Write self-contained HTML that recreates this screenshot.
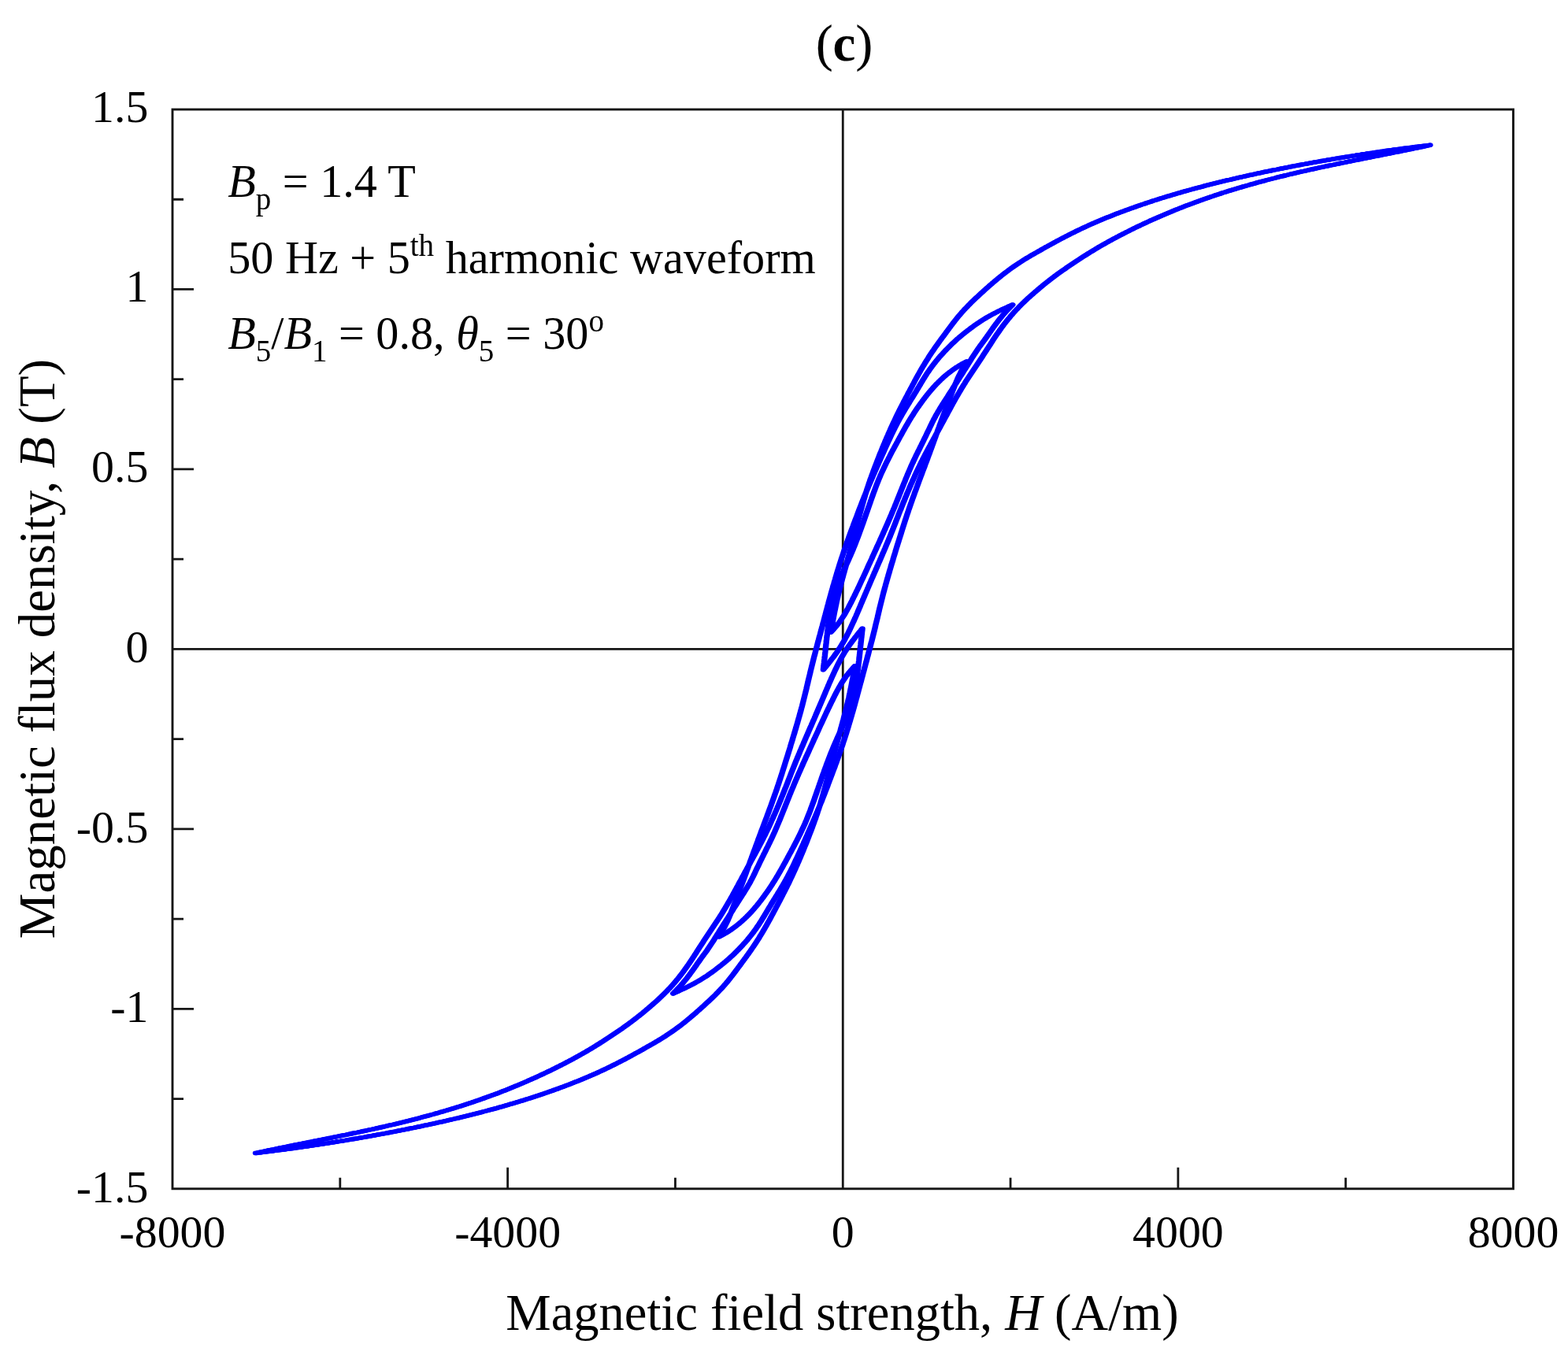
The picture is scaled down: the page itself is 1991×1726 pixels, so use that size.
<!DOCTYPE html>
<html lang="en">
<head>
<meta charset="utf-8">
<title>(c) B-H loop, 50 Hz + 5th harmonic</title>
<style>html,body{margin:0;padding:0;background:#fff;}body{width:1991px;height:1726px;overflow:hidden;}svg{display:block;filter:blur(0.45px);}</style>
</head>
<body>
<svg width="1991" height="1726" viewBox="0 0 1991 1726" font-family="'Liberation Serif', 'DejaVu Serif', serif" fill="#000">
<rect x="219.00" y="139.00" width="1702.50" height="1370.80" fill="none" stroke="#161616" stroke-width="2.90"/>
<path d="M1070.25 139.00V1509.80M219.00 824.40H1921.50" stroke="#161616" stroke-width="2.80" fill="none"/>
<path d="M431.81 1509.80v-14.00M644.62 1509.80v-27.00M857.44 1509.80v-14.00M1283.06 1509.80v-14.00M1495.88 1509.80v-27.00M1708.69 1509.80v-14.00M219.00 253.23h14.00M219.00 367.47h27.00M219.00 481.70h14.00M219.00 595.93h27.00M219.00 710.17h14.00M219.00 938.63h14.00M219.00 1052.87h27.00M219.00 1167.10h14.00M219.00 1281.33h27.00M219.00 1395.57h14.00" stroke="#161616" stroke-width="2.80" fill="none"/>
<g fill="none" stroke="#0000ff" stroke-width="5.40" stroke-linejoin="round" stroke-linecap="round">
<path id="bh" d="M854.7 1261.8L856.4 1261.0L858.2 1260.2L859.9 1259.5L861.6 1258.7L863.3 1257.9L865.1 1257.1L866.8 1256.3L868.5 1255.5L870.2 1254.7L871.9 1253.9L873.5 1253.1L875.2 1252.2L876.9 1251.4L878.5 1250.5L880.2 1249.7L881.8 1248.8L883.4 1247.9L885.0 1247.0L886.6 1246.1L888.2 1245.2L889.8 1244.2L891.3 1243.3L892.9 1242.3L894.4 1241.3L895.9 1240.4L897.4 1239.4L898.9 1238.4L900.4 1237.3L901.9 1236.3L903.4 1235.3L904.8 1234.2L906.3 1233.1L907.7 1232.1L909.1 1231.0L910.5 1229.9L912.0 1228.8L913.4 1227.7L914.8 1226.6L916.2 1225.5L917.5 1224.4L918.9 1223.3L920.3 1222.1L921.7 1221.0L923.0 1219.8L924.4 1218.7L925.7 1217.5L927.0 1216.3L928.3 1215.1L929.6 1213.9L930.9 1212.7L932.2 1211.5L933.5 1210.2L934.7 1209.0L936.0 1207.7L937.2 1206.5L938.5 1205.2L939.7 1203.9L940.9 1202.6L942.1 1201.4L943.3 1200.0L944.5 1198.7L945.7 1197.4L946.9 1196.1L948.1 1194.7L949.2 1193.4L950.3 1192.0L951.5 1190.6L952.6 1189.2L953.7 1187.8L954.8 1186.4L955.9 1185.0L957.0 1183.6L958.0 1182.1L959.1 1180.7L960.1 1179.2L961.1 1177.7L962.2 1176.2L963.2 1174.7L964.2 1173.2L965.1 1171.7L966.1 1170.2L967.1 1168.6L968.0 1167.1L969.0 1165.5L969.9 1164.0L970.9 1162.4L971.8 1160.8L972.7 1159.3L973.7 1157.7L974.6 1156.1L975.6 1154.5L976.5 1153.0L977.4 1151.4L978.4 1149.9L979.3 1148.3L980.3 1146.7L981.2 1145.2L982.2 1143.6L983.2 1142.1L984.1 1140.5L985.1 1139.0L986.0 1137.4L987.0 1135.9L987.9 1134.3L988.9 1132.8L989.8 1131.2L990.8 1129.7L991.7 1128.1L992.6 1126.5L993.6 1124.9L994.5 1123.4L995.4 1121.8L996.3 1120.2L997.2 1118.6L998.1 1117.0L999.0 1115.3L999.9 1113.7L1000.8 1112.1L1001.6 1110.4L1002.5 1108.8L1003.3 1107.1L1004.2 1105.5L1005.0 1103.8L1005.9 1102.1L1006.7 1100.5L1007.5 1098.8L1008.3 1097.1L1009.1 1095.4L1009.9 1093.7L1010.7 1092.0L1011.5 1090.3L1012.3 1088.6L1013.1 1086.9L1013.9 1085.1L1014.7 1083.4L1015.5 1081.7L1016.3 1080.0L1017.1 1078.2L1017.8 1076.5L1018.6 1074.8L1019.4 1073.0L1020.2 1071.3L1020.9 1069.6L1021.7 1067.8L1022.5 1066.1L1023.2 1064.4L1024.0 1062.6L1024.8 1060.9L1025.5 1059.2L1026.3 1057.4L1027.1 1055.7L1027.8 1053.9L1028.6 1052.2L1029.4 1050.5L1030.1 1048.7L1030.9 1047.0L1031.7 1045.2L1032.4 1043.5L1033.2 1041.7L1033.9 1040.0L1034.7 1038.2L1035.4 1036.5L1036.2 1034.7L1036.9 1032.9L1037.7 1031.2L1038.4 1029.4L1039.1 1027.6L1039.9 1025.9L1040.6 1024.1L1041.3 1022.3L1042.0 1020.5L1042.8 1018.7L1043.5 1016.9L1044.2 1015.1L1044.9 1013.3L1045.6 1011.5L1046.3 1009.7L1047.0 1007.9L1047.7 1006.1L1048.4 1004.3L1049.1 1002.5L1049.8 1000.7L1050.5 998.9L1051.2 997.0L1051.8 995.2L1052.5 993.4L1053.2 991.6L1053.9 989.8L1054.6 988.0L1055.3 986.1L1056.0 984.3L1056.7 982.5L1057.3 980.7L1058.0 978.8L1058.7 977.0L1059.4 975.2L1060.1 973.4L1060.7 971.5L1061.4 969.7L1062.1 967.9L1062.7 966.0L1063.4 964.2L1064.1 962.3L1064.7 960.5L1065.4 958.6L1066.0 956.8L1066.7 954.9L1067.3 953.1L1068.0 951.2L1068.6 949.3L1069.3 947.5L1069.9 945.6L1070.5 943.7L1071.1 941.8L1071.8 939.9L1072.4 938.0L1073.0 936.2L1073.6 934.3L1074.2 932.4L1074.8 930.4L1075.4 928.5L1076.0 926.6L1076.6 924.7L1077.2 922.8L1077.7 920.9L1078.3 918.9L1078.9 917.0L1079.5 915.1L1080.0 913.1L1080.6 911.2L1081.2 909.3L1081.7 907.3L1082.3 905.4L1082.9 903.4L1083.4 901.5L1084.0 899.5L1084.5 897.5L1085.1 895.6L1085.6 893.6L1086.1 891.7L1086.7 889.7L1087.2 887.7L1087.8 885.8L1088.3 883.8L1088.8 881.8L1089.4 879.8L1089.9 877.9L1090.4 875.9L1090.9 873.9L1091.5 871.9L1092.0 869.9L1092.5 868.0L1093.1 866.0L1093.6 864.0L1094.1 862.0L1094.6 860.1L1095.2 858.1L1095.7 856.1L1096.2 854.1L1096.8 852.1L1097.3 850.2L1097.8 848.2L1098.4 846.2L1098.9 844.2L1099.4 842.3L1100.0 840.3L1100.5 838.3L1101.0 836.3L1101.5 834.4L1102.1 832.4L1102.6 830.4L1103.1 828.4L1103.6 826.4L1104.2 824.5L1104.7 822.5L1105.2 820.5L1105.7 818.5L1106.2 816.5L1106.8 814.5L1107.3 812.5L1107.8 810.5L1108.3 808.5L1108.8 806.5L1109.3 804.5L1109.8 802.5L1110.3 800.5L1110.8 798.5L1111.3 796.5L1111.7 794.4L1112.2 792.4L1112.7 790.4L1113.2 788.4L1113.7 786.3L1114.2 784.3L1114.6 782.3L1115.1 780.3L1115.6 778.2L1116.1 776.2L1116.5 774.2L1117.0 772.1L1117.5 770.1L1118.0 768.1L1118.5 766.1L1119.0 764.1L1119.5 762.1L1120.0 760.1L1120.5 758.1L1121.0 756.1L1121.5 754.1L1122.0 752.1L1122.6 750.1L1123.1 748.1L1123.6 746.2L1124.2 744.2L1124.7 742.2L1125.3 740.3L1125.8 738.3L1126.4 736.4L1126.9 734.4L1127.5 732.5L1128.0 730.5L1128.6 728.6L1129.2 726.6L1129.7 724.7L1130.3 722.7L1130.9 720.8L1131.4 718.9L1132.0 716.9L1132.6 715.0L1133.2 713.1L1133.8 711.2L1134.3 709.2L1134.9 707.3L1135.5 705.4L1136.1 703.5L1136.7 701.5L1137.2 699.6L1137.8 697.7L1138.4 695.8L1139.0 693.9L1139.6 691.9L1140.2 690.0L1140.8 688.1L1141.4 686.2L1142.0 684.3L1142.6 682.4L1143.2 680.5L1143.8 678.6L1144.4 676.6L1145.0 674.7L1145.6 672.8L1146.2 670.9L1146.8 669.0L1147.4 667.1L1148.0 665.2L1148.6 663.4L1149.2 661.5L1149.8 659.6L1150.5 657.7L1151.1 655.8L1151.7 653.9L1152.3 652.1L1153.0 650.2L1153.6 648.3L1154.2 646.4L1154.9 644.6L1155.5 642.7L1156.2 640.8L1156.8 639.0L1157.5 637.1L1158.1 635.3L1158.8 633.4L1159.5 631.6L1160.1 629.7L1160.8 627.9L1161.4 626.1L1162.1 624.2L1162.8 622.4L1163.5 620.6L1164.1 618.7L1164.8 616.9L1165.5 615.1L1166.2 613.2L1166.8 611.4L1167.5 609.6L1168.2 607.8L1168.9 605.9L1169.6 604.1L1170.3 602.3L1170.9 600.5L1171.6 598.6L1172.3 596.8L1173.0 595.0L1173.7 593.2L1174.4 591.3L1175.0 589.5L1175.7 587.7L1176.4 585.9L1177.1 584.0L1177.8 582.2L1178.4 580.4L1179.1 578.6L1179.8 576.7L1180.5 574.9L1181.1 573.1L1181.8 571.2L1182.5 569.4L1183.2 567.6L1183.8 565.7L1184.5 563.9L1185.2 562.1L1185.8 560.2L1186.5 558.4L1187.2 556.6L1187.9 554.7L1188.5 552.9L1189.2 551.0L1189.9 549.2L1190.5 547.4L1191.2 545.5L1191.9 543.7L1192.6 541.9L1193.2 540.0L1193.9 538.2L1194.6 536.4L1195.3 534.5L1195.9 532.7L1196.6 530.9L1197.3 529.1L1198.0 527.2L1198.7 525.4L1199.4 523.6L1200.1 521.8L1200.7 520.0L1201.4 518.2L1202.1 516.3L1202.8 514.5L1203.5 512.7L1204.2 510.9L1204.9 509.1L1205.6 507.3L1206.3 505.4L1206.9 503.6L1207.6 501.8L1208.3 500.0L1209.0 498.1L1209.7 496.3L1210.4 494.5L1211.1 492.7L1211.8 490.9L1212.5 489.1L1213.2 487.3L1214.0 485.6L1214.7 483.8L1215.5 482.1L1216.2 480.3L1217.0 478.6L1217.8 476.9L1218.7 475.2L1219.5 473.6L1220.3 471.9L1221.2 470.2L1222.1 468.6L1223.0 467.0L1223.9 465.4L1224.8 463.8L1225.7 462.2L1226.6 460.6L1227.5 459.0L1225.9 459.9L1224.2 460.8L1222.6 461.6L1221.0 462.6L1219.4 463.5L1217.8 464.4L1216.3 465.4L1214.8 466.4L1213.2 467.4L1211.7 468.4L1210.3 469.5L1208.8 470.5L1207.4 471.6L1205.9 472.7L1204.5 473.8L1203.1 474.9L1201.7 476.0L1200.4 477.2L1199.0 478.3L1197.7 479.5L1196.4 480.7L1195.1 481.9L1193.8 483.2L1192.5 484.4L1191.3 485.7L1190.0 486.9L1188.8 488.2L1187.6 489.5L1186.3 490.8L1185.1 492.1L1184.0 493.5L1182.8 494.8L1181.6 496.2L1180.5 497.5L1179.3 498.9L1178.2 500.3L1177.1 501.7L1176.0 503.1L1174.9 504.5L1173.8 506.0L1172.7 507.4L1171.6 508.8L1170.6 510.3L1169.5 511.7L1168.5 513.2L1167.4 514.7L1166.4 516.1L1165.3 517.6L1164.3 519.1L1163.3 520.6L1162.3 522.1L1161.3 523.6L1160.3 525.1L1159.3 526.7L1158.3 528.2L1157.3 529.7L1156.4 531.3L1155.4 532.9L1154.5 534.4L1153.5 536.0L1152.6 537.6L1151.7 539.2L1150.7 540.8L1149.8 542.4L1148.9 544.0L1148.0 545.6L1147.1 547.2L1146.2 548.8L1145.3 550.5L1144.4 552.1L1143.5 553.7L1142.6 555.3L1141.7 557.0L1140.8 558.6L1140.0 560.2L1139.1 561.8L1138.2 563.5L1137.3 565.1L1136.4 566.7L1135.5 568.4L1134.7 570.0L1133.8 571.6L1132.9 573.3L1132.0 574.9L1131.2 576.6L1130.3 578.3L1129.5 579.9L1128.6 581.6L1127.8 583.2L1126.9 584.9L1126.1 586.6L1125.2 588.3L1124.4 590.0L1123.6 591.7L1122.8 593.3L1122.0 595.1L1121.2 596.8L1120.4 598.5L1119.6 600.2L1118.8 602.0L1118.0 603.7L1117.3 605.5L1116.5 607.3L1115.8 609.0L1115.1 610.8L1114.4 612.6L1113.6 614.4L1112.9 616.2L1112.2 618.1L1111.5 619.9L1110.9 621.7L1110.2 623.5L1109.5 625.4L1108.8 627.2L1108.2 629.1L1107.5 630.9L1106.8 632.8L1106.2 634.6L1105.5 636.5L1104.9 638.4L1104.2 640.2L1103.6 642.1L1102.9 644.0L1102.3 645.8L1101.6 647.7L1101.0 649.6L1100.3 651.4L1099.7 653.3L1099.0 655.2L1098.4 657.0L1097.7 658.9L1097.1 660.8L1096.4 662.6L1095.8 664.5L1095.1 666.3L1094.4 668.2L1093.8 670.0L1093.1 671.9L1092.4 673.7L1091.7 675.6L1091.1 677.4L1090.4 679.3L1089.7 681.1L1089.0 682.9L1088.3 684.7L1087.6 686.5L1086.9 688.4L1086.2 690.2L1085.5 692.0L1084.8 693.8L1084.0 695.6L1083.3 697.4L1082.6 699.1L1081.8 700.9L1081.1 702.7L1080.3 704.4L1079.6 706.2L1078.8 707.9L1078.0 709.7L1077.3 711.4L1076.5 713.2L1075.7 714.9L1074.9 716.6L1074.1 718.3L1073.3 720.1L1072.5 721.8L1071.7 723.5L1071.0 725.3L1070.2 727.0L1069.4 728.7L1068.6 730.5L1067.9 732.2L1067.1 734.0L1066.4 735.8L1065.6 737.6L1064.9 739.4L1064.2 741.2L1063.5 743.0L1062.8 744.8L1062.2 746.7L1061.5 748.5L1060.9 750.4L1060.2 752.3L1059.6 754.2L1059.1 756.1L1058.5 758.1L1058.0 760.1L1057.4 762.1L1056.9 764.1L1056.5 766.1L1056.0 768.2L1055.6 770.3L1055.2 772.4L1054.8 774.5L1054.4 776.6L1054.0 778.8L1053.7 780.9L1053.3 783.1L1053.0 785.3L1052.7 787.5L1052.3 789.7L1052.0 791.9L1051.7 794.1L1051.5 796.4L1051.2 798.6L1050.9 800.8L1050.6 803.1L1050.4 805.3L1050.1 807.6L1049.8 809.8L1049.6 812.1L1049.3 814.4L1049.1 816.6L1048.8 818.9L1048.6 821.2L1048.3 823.4L1048.1 825.7L1047.9 828.0L1047.6 830.3L1047.4 832.5L1047.1 834.8L1046.9 837.1L1046.6 839.3L1046.4 841.6L1046.1 843.9L1045.9 846.2L1045.6 848.4L1045.4 850.7L1046.5 849.3L1047.6 847.9L1048.8 846.5L1049.9 845.2L1051.0 843.8L1052.1 842.4L1053.2 841.0L1054.3 839.6L1055.4 838.1L1056.5 836.7L1057.6 835.3L1058.7 833.9L1059.7 832.4L1060.8 831.0L1061.8 829.5L1062.9 828.1L1063.9 826.6L1064.9 825.1L1065.9 823.6L1066.9 822.0L1067.9 820.5L1068.8 818.9L1069.7 817.4L1070.7 815.8L1071.6 814.2L1072.5 812.6L1073.3 810.9L1074.2 809.3L1075.1 807.7L1075.9 806.0L1076.8 804.3L1077.6 802.7L1078.4 801.0L1079.2 799.3L1080.0 797.6L1080.8 795.9L1081.6 794.2L1082.4 792.4L1083.2 790.7L1084.0 789.0L1084.8 787.2L1085.5 785.5L1086.3 783.8L1087.1 782.0L1087.8 780.3L1088.6 778.5L1089.3 776.7L1090.1 775.0L1090.8 773.2L1091.6 771.5L1092.3 769.7L1093.0 767.9L1093.8 766.2L1094.5 764.4L1095.3 762.6L1096.0 760.9L1096.8 759.1L1097.5 757.4L1098.3 755.6L1099.0 753.8L1099.8 752.1L1100.5 750.3L1101.3 748.6L1102.0 746.8L1102.8 745.1L1103.5 743.3L1104.3 741.6L1105.0 739.8L1105.8 738.0L1106.5 736.3L1107.3 734.5L1108.1 732.8L1108.8 731.0L1109.6 729.3L1110.3 727.5L1111.1 725.8L1111.9 724.1L1112.6 722.3L1113.4 720.6L1114.1 718.8L1114.9 717.1L1115.6 715.3L1116.4 713.6L1117.2 711.8L1117.9 710.1L1118.7 708.3L1119.4 706.6L1120.2 704.8L1120.9 703.0L1121.7 701.3L1122.5 699.5L1123.2 697.8L1124.0 696.0L1124.7 694.3L1125.4 692.5L1126.2 690.7L1126.9 689.0L1127.7 687.2L1128.4 685.4L1129.1 683.6L1129.9 681.9L1130.6 680.1L1131.3 678.3L1132.0 676.5L1132.7 674.7L1133.4 672.9L1134.2 671.1L1134.9 669.3L1135.6 667.5L1136.3 665.7L1137.0 663.9L1137.7 662.1L1138.4 660.3L1139.1 658.5L1139.8 656.7L1140.5 654.9L1141.2 653.1L1141.9 651.3L1142.6 649.5L1143.4 647.7L1144.1 645.9L1144.8 644.1L1145.5 642.3L1146.2 640.5L1146.9 638.7L1147.7 637.0L1148.4 635.2L1149.1 633.4L1149.8 631.6L1150.6 629.8L1151.3 628.1L1152.0 626.3L1152.8 624.5L1153.5 622.8L1154.3 621.0L1155.0 619.2L1155.8 617.5L1156.5 615.7L1157.3 614.0L1158.1 612.3L1158.8 610.5L1159.6 608.8L1160.4 607.1L1161.2 605.3L1161.9 603.6L1162.7 601.9L1163.5 600.2L1164.3 598.5L1165.1 596.8L1165.9 595.1L1166.7 593.4L1167.6 591.7L1168.4 590.0L1169.2 588.3L1170.0 586.6L1170.9 585.0L1171.7 583.3L1172.6 581.6L1173.4 580.0L1174.3 578.3L1175.1 576.7L1176.0 575.0L1176.9 573.4L1177.8 571.8L1178.6 570.1L1179.5 568.5L1180.4 566.9L1181.3 565.2L1182.1 563.6L1183.0 562.0L1183.9 560.4L1184.8 558.8L1185.7 557.1L1186.6 555.5L1187.5 553.9L1188.3 552.3L1189.2 550.6L1190.1 549.0L1191.0 547.4L1191.9 545.8L1192.8 544.1L1193.7 542.5L1194.5 540.9L1195.4 539.3L1196.3 537.6L1197.2 536.0L1198.1 534.4L1198.9 532.8L1199.8 531.1L1200.7 529.5L1201.6 527.9L1202.5 526.2L1203.3 524.6L1204.2 523.0L1205.1 521.4L1206.0 519.7L1206.9 518.1L1207.7 516.5L1208.6 514.9L1209.5 513.3L1210.4 511.6L1211.3 510.0L1212.2 508.4L1213.1 506.8L1214.0 505.2L1214.9 503.6L1215.9 502.0L1216.8 500.4L1217.7 498.9L1218.6 497.3L1219.6 495.7L1220.5 494.1L1221.4 492.6L1222.4 491.0L1223.3 489.5L1224.3 487.9L1225.3 486.4L1226.2 484.8L1227.2 483.3L1228.2 481.8L1229.2 480.2L1230.2 478.7L1231.2 477.2L1232.2 475.7L1233.2 474.2L1234.2 472.7L1235.2 471.2L1236.2 469.7L1237.2 468.2L1238.2 466.7L1239.2 465.2L1240.2 463.7L1241.2 462.2L1242.2 460.7L1243.2 459.2L1244.2 457.7L1245.2 456.2L1246.2 454.7L1247.2 453.2L1248.2 451.6L1249.2 450.1L1250.2 448.6L1251.2 447.1L1252.2 445.6L1253.1 444.0L1254.1 442.5L1255.1 441.0L1256.1 439.4L1257.1 437.9L1258.1 436.4L1259.0 434.9L1260.0 433.4L1261.0 431.8L1262.0 430.3L1263.0 428.8L1264.0 427.3L1265.0 425.8L1266.0 424.3L1267.1 422.8L1268.1 421.4L1269.1 419.9L1270.2 418.4L1271.2 417.0L1272.3 415.5L1273.3 414.1L1274.4 412.6L1275.5 411.2L1276.6 409.8L1277.7 408.4L1278.8 407.0L1279.9 405.6L1281.1 404.2L1282.2 402.9L1283.3 401.5L1284.5 400.1L1285.7 398.8L1286.8 397.5L1288.0 396.2L1289.2 394.8L1290.4 393.5L1291.7 392.3L1292.9 391.0L1294.1 389.7L1295.4 388.4L1296.6 387.2L1297.9 385.9L1299.1 384.7L1300.4 383.5L1301.7 382.2L1303.0 381.0L1304.3 379.8L1305.6 378.6L1306.9 377.4L1308.2 376.2L1309.6 375.0L1310.9 373.9L1312.2 372.7L1313.6 371.5L1314.9 370.4L1316.3 369.2L1317.6 368.1L1319.0 366.9L1320.3 365.8L1321.7 364.6L1323.1 363.5L1324.4 362.3L1325.8 361.2L1327.2 360.1L1328.6 359.0L1330.0 357.9L1331.4 356.8L1332.8 355.7L1334.2 354.6L1335.6 353.5L1337.1 352.4L1338.5 351.3L1339.9 350.2L1341.4 349.2L1342.8 348.1L1344.3 347.1L1345.7 346.0L1347.2 345.0L1348.7 343.9L1350.1 342.9L1351.6 341.9L1353.1 340.9L1354.6 339.8L1356.1 338.8L1357.6 337.8L1359.1 336.8L1360.6 335.8L1362.1 334.8L1363.6 333.8L1365.1 332.8L1366.6 331.8L1368.1 330.8L1369.7 329.8L1371.2 328.8L1372.7 327.8L1374.2 326.8L1375.7 325.8L1377.2 324.9L1378.8 323.9L1380.3 322.9L1381.9 321.9L1383.4 321.0L1384.9 320.0L1386.5 319.1L1388.1 318.1L1389.6 317.2L1391.2 316.2L1392.8 315.3L1394.3 314.4L1395.9 313.4L1397.5 312.5L1399.1 311.6L1400.7 310.7L1402.3 309.8L1403.9 308.9L1405.5 308.0L1407.1 307.1L1408.7 306.2L1410.4 305.3L1412.0 304.4L1413.6 303.5L1415.2 302.7L1416.9 301.8L1418.5 300.9L1420.2 300.1L1421.8 299.2L1423.5 298.3L1425.1 297.5L1426.8 296.6L1428.4 295.8L1430.1 294.9L1431.8 294.1L1433.4 293.3L1435.1 292.4L1436.8 291.6L1438.5 290.8L1440.1 289.9L1441.8 289.1L1443.5 288.3L1445.2 287.5L1446.9 286.7L1448.6 285.9L1450.3 285.1L1452.0 284.3L1453.7 283.5L1455.4 282.7L1457.2 281.9L1458.9 281.1L1460.6 280.3L1462.3 279.5L1464.1 278.8L1465.8 278.0L1467.5 277.2L1469.3 276.5L1471.0 275.7L1472.8 274.9L1474.5 274.2L1476.3 273.4L1478.0 272.7L1479.8 271.9L1481.6 271.2L1483.3 270.4L1485.1 269.7L1486.9 269.0L1488.7 268.2L1490.4 267.5L1492.2 266.8L1494.0 266.1L1495.8 265.4L1497.6 264.6L1499.4 263.9L1501.2 263.2L1503.0 262.5L1504.8 261.8L1506.6 261.1L1508.4 260.4L1510.3 259.7L1512.1 259.1L1513.9 258.4L1515.7 257.7L1517.6 257.0L1519.4 256.4L1521.2 255.7L1523.1 255.0L1524.9 254.4L1526.8 253.7L1528.6 253.0L1530.5 252.4L1532.3 251.7L1534.2 251.1L1536.1 250.5L1537.9 249.8L1539.8 249.2L1541.7 248.5L1543.6 247.9L1545.5 247.3L1547.3 246.7L1549.2 246.1L1551.1 245.4L1553.0 244.8L1554.9 244.2L1556.8 243.6L1558.7 243.0L1560.6 242.4L1562.6 241.8L1564.5 241.2L1566.4 240.7L1568.3 240.1L1570.2 239.5L1572.2 238.9L1574.1 238.3L1576.0 237.8L1578.0 237.2L1579.9 236.6L1581.9 236.1L1583.8 235.5L1585.8 235.0L1587.7 234.4L1589.7 233.8L1591.6 233.3L1593.6 232.8L1595.6 232.2L1597.5 231.7L1599.5 231.1L1601.5 230.6L1603.5 230.1L1605.5 229.6L1607.4 229.0L1609.4 228.5L1611.4 228.0L1613.4 227.5L1615.4 227.0L1617.4 226.5L1619.4 226.0L1621.4 225.4L1623.4 224.9L1625.4 224.4L1627.4 223.9L1629.4 223.5L1631.5 223.0L1633.5 222.5L1635.5 222.0L1637.5 221.5L1639.6 221.0L1641.6 220.5L1643.6 220.1L1645.6 219.6L1647.7 219.1L1649.7 218.6L1651.8 218.2L1653.8 217.7L1655.8 217.3L1657.9 216.8L1659.9 216.3L1662.0 215.9L1664.0 215.4L1666.1 215.0L1668.2 214.5L1670.2 214.1L1672.3 213.6L1674.3 213.2L1676.4 212.7L1678.5 212.3L1680.5 211.9L1682.6 211.4L1684.7 211.0L1686.8 210.5L1688.8 210.1L1690.9 209.7L1693.0 209.3L1695.1 208.8L1697.1 208.4L1699.2 208.0L1701.3 207.5L1703.4 207.1L1705.5 206.7L1707.6 206.3L1709.6 205.8L1711.7 205.4L1713.8 205.0L1715.9 204.6L1718.0 204.2L1720.1 203.7L1722.2 203.3L1724.3 202.9L1726.4 202.5L1728.4 202.1L1730.5 201.7L1732.6 201.2L1734.7 200.8L1736.8 200.4L1738.9 200.0L1741.0 199.6L1743.1 199.2L1745.2 198.7L1747.3 198.3L1749.4 197.9L1751.5 197.5L1753.5 197.1L1755.6 196.7L1757.7 196.2L1759.8 195.8L1761.9 195.4L1764.0 195.0L1766.1 194.6L1768.2 194.1L1770.2 193.7L1772.3 193.3L1774.4 192.9L1776.5 192.5L1778.6 192.0L1780.7 191.6L1782.8 191.2L1784.8 190.8L1786.9 190.3L1789.0 189.9L1791.1 189.5L1793.2 189.0L1795.2 188.6L1797.3 188.2L1799.4 187.8L1801.5 187.3L1803.5 186.9L1805.6 186.5L1807.7 186.0L1809.8 185.6L1811.8 185.2L1813.9 184.7L1816.0 184.3L1813.8 184.6L1811.5 184.9L1809.3 185.1L1807.1 185.4L1804.9 185.7L1802.6 186.0L1800.4 186.3L1798.2 186.5L1795.9 186.8L1793.7 187.1L1791.5 187.4L1789.3 187.7L1787.0 188.0L1784.8 188.2L1782.6 188.5L1780.4 188.8L1778.2 189.1L1776.0 189.4L1773.8 189.7L1771.5 190.0L1769.3 190.3L1767.1 190.6L1764.9 190.9L1762.7 191.2L1760.5 191.5L1758.3 191.8L1756.1 192.2L1753.9 192.5L1751.7 192.8L1749.5 193.1L1747.4 193.4L1745.2 193.7L1743.0 194.1L1740.8 194.4L1738.6 194.7L1736.4 195.0L1734.2 195.4L1732.1 195.7L1729.9 196.0L1727.7 196.4L1725.5 196.7L1723.4 197.0L1721.2 197.4L1719.0 197.7L1716.9 198.1L1714.7 198.4L1712.5 198.8L1710.4 199.1L1708.2 199.4L1706.1 199.8L1703.9 200.2L1701.8 200.5L1699.6 200.9L1697.5 201.2L1695.3 201.6L1693.2 201.9L1691.0 202.3L1688.9 202.7L1686.7 203.0L1684.6 203.4L1682.5 203.8L1680.3 204.2L1678.2 204.5L1676.1 204.9L1673.9 205.3L1671.8 205.7L1669.7 206.0L1667.5 206.4L1665.4 206.8L1663.3 207.2L1661.2 207.6L1659.1 208.0L1656.9 208.4L1654.8 208.7L1652.7 209.1L1650.6 209.5L1648.5 209.9L1646.4 210.3L1644.3 210.7L1642.2 211.1L1640.0 211.5L1637.9 211.9L1635.8 212.4L1633.7 212.8L1631.6 213.2L1629.6 213.6L1627.5 214.0L1625.4 214.4L1623.3 214.8L1621.2 215.3L1619.1 215.7L1617.0 216.1L1614.9 216.5L1612.8 217.0L1610.8 217.4L1608.7 217.8L1606.6 218.2L1604.5 218.7L1602.5 219.1L1600.4 219.6L1598.3 220.0L1596.3 220.4L1594.2 220.9L1592.1 221.3L1590.1 221.8L1588.0 222.2L1586.0 222.7L1583.9 223.1L1581.9 223.6L1579.8 224.0L1577.8 224.5L1575.7 225.0L1573.7 225.4L1571.6 225.9L1569.6 226.4L1567.5 226.8L1565.5 227.3L1563.5 227.8L1561.5 228.3L1559.4 228.7L1557.4 229.2L1555.4 229.7L1553.4 230.2L1551.3 230.7L1549.3 231.2L1547.3 231.7L1545.3 232.2L1543.3 232.7L1541.3 233.2L1539.3 233.7L1537.3 234.2L1535.3 234.7L1533.3 235.2L1531.3 235.7L1529.3 236.2L1527.3 236.8L1525.3 237.3L1523.3 237.8L1521.3 238.3L1519.4 238.9L1517.4 239.4L1515.4 239.9L1513.4 240.5L1511.5 241.0L1509.5 241.5L1507.5 242.1L1505.6 242.6L1503.6 243.2L1501.7 243.7L1499.7 244.3L1497.8 244.9L1495.8 245.4L1493.9 246.0L1491.9 246.6L1490.0 247.1L1488.1 247.7L1486.1 248.3L1484.2 248.9L1482.3 249.4L1480.4 250.0L1478.4 250.6L1476.5 251.2L1474.6 251.8L1472.7 252.4L1470.8 253.0L1468.9 253.6L1467.0 254.2L1465.1 254.8L1463.2 255.4L1461.3 256.1L1459.4 256.7L1457.5 257.3L1455.7 257.9L1453.8 258.6L1451.9 259.2L1450.0 259.8L1448.2 260.5L1446.3 261.1L1444.4 261.8L1442.6 262.4L1440.7 263.1L1438.9 263.7L1437.0 264.4L1435.2 265.0L1433.3 265.7L1431.5 266.4L1429.6 267.0L1427.8 267.7L1426.0 268.4L1424.2 269.1L1422.3 269.8L1420.5 270.5L1418.7 271.1L1416.9 271.8L1415.1 272.5L1413.3 273.2L1411.5 274.0L1409.7 274.7L1407.9 275.4L1406.1 276.1L1404.3 276.8L1402.5 277.5L1400.7 278.3L1399.0 279.0L1397.2 279.8L1395.4 280.5L1393.7 281.2L1391.9 282.0L1390.2 282.8L1388.4 283.5L1386.7 284.3L1384.9 285.1L1383.2 285.8L1381.5 286.6L1379.8 287.4L1378.0 288.2L1376.3 289.0L1374.6 289.8L1372.9 290.6L1371.2 291.4L1369.5 292.2L1367.8 293.0L1366.1 293.8L1364.5 294.7L1362.8 295.5L1361.1 296.3L1359.4 297.2L1357.8 298.0L1356.1 298.9L1354.4 299.7L1352.8 300.6L1351.1 301.4L1349.5 302.3L1347.8 303.1L1346.2 304.0L1344.6 304.9L1342.9 305.7L1341.3 306.6L1339.7 307.5L1338.0 308.4L1336.4 309.3L1334.8 310.2L1333.2 311.1L1331.6 311.9L1330.0 312.8L1328.3 313.7L1326.7 314.6L1325.1 315.5L1323.5 316.4L1321.9 317.4L1320.3 318.3L1318.7 319.2L1317.1 320.1L1315.5 321.0L1313.9 321.9L1312.3 322.8L1310.7 323.7L1309.1 324.6L1307.6 325.6L1306.0 326.5L1304.4 327.4L1302.8 328.4L1301.3 329.3L1299.7 330.3L1298.2 331.3L1296.7 332.2L1295.1 333.2L1293.6 334.2L1292.1 335.2L1290.6 336.2L1289.1 337.2L1287.6 338.3L1286.2 339.3L1284.7 340.3L1283.2 341.4L1281.8 342.4L1280.3 343.5L1278.9 344.6L1277.5 345.6L1276.0 346.7L1274.6 347.8L1273.2 348.9L1271.8 350.0L1270.4 351.1L1269.0 352.3L1267.6 353.4L1266.3 354.5L1264.9 355.7L1263.5 356.8L1262.2 358.0L1260.8 359.1L1259.5 360.3L1258.1 361.4L1256.8 362.6L1255.5 363.8L1254.1 365.0L1252.8 366.1L1251.5 367.3L1250.1 368.5L1248.8 369.7L1247.5 370.9L1246.2 372.1L1244.9 373.3L1243.6 374.5L1242.3 375.7L1241.0 376.9L1239.7 378.1L1238.4 379.3L1237.1 380.5L1235.8 381.8L1234.5 383.0L1233.3 384.2L1232.0 385.5L1230.8 386.8L1229.5 388.0L1228.3 389.3L1227.1 390.6L1225.8 391.9L1224.6 393.2L1223.4 394.5L1222.2 395.8L1221.1 397.1L1219.9 398.5L1218.7 399.8L1217.6 401.2L1216.4 402.5L1215.3 403.9L1214.2 405.3L1213.1 406.7L1212.0 408.1L1210.9 409.5L1209.8 410.9L1208.7 412.4L1207.6 413.8L1206.6 415.2L1205.5 416.7L1204.4 418.1L1203.4 419.5L1202.3 421.0L1201.2 422.4L1200.2 423.9L1199.1 425.3L1198.0 426.8L1197.0 428.2L1195.9 429.6L1194.8 431.1L1193.8 432.5L1192.7 434.0L1191.7 435.5L1190.6 436.9L1189.6 438.4L1188.5 439.9L1187.5 441.3L1186.5 442.8L1185.5 444.3L1184.4 445.8L1183.4 447.3L1182.4 448.8L1181.4 450.3L1180.4 451.8L1179.4 453.3L1178.5 454.9L1177.5 456.4L1176.5 457.9L1175.6 459.5L1174.6 461.0L1173.7 462.6L1172.7 464.2L1171.8 465.7L1170.9 467.3L1169.9 468.9L1169.0 470.5L1168.1 472.1L1167.2 473.7L1166.3 475.3L1165.4 476.9L1164.5 478.5L1163.6 480.1L1162.7 481.8L1161.8 483.4L1161.0 485.0L1160.1 486.7L1159.2 488.3L1158.4 489.9L1157.5 491.6L1156.6 493.2L1155.7 494.9L1154.9 496.5L1154.0 498.1L1153.1 499.8L1152.3 501.4L1151.4 503.1L1150.5 504.7L1149.7 506.3L1148.8 508.0L1148.0 509.6L1147.1 511.3L1146.3 513.0L1145.4 514.6L1144.6 516.3L1143.7 517.9L1142.9 519.6L1142.0 521.3L1141.2 522.9L1140.4 524.6L1139.5 526.3L1138.7 528.0L1137.9 529.7L1137.1 531.4L1136.3 533.1L1135.5 534.8L1134.7 536.5L1133.9 538.2L1133.1 539.9L1132.3 541.6L1131.5 543.4L1130.7 545.1L1130.0 546.8L1129.2 548.6L1128.4 550.3L1127.7 552.1L1126.9 553.8L1126.1 555.6L1125.4 557.3L1124.6 559.1L1123.9 560.8L1123.2 562.6L1122.4 564.4L1121.7 566.1L1120.9 567.9L1120.2 569.7L1119.5 571.5L1118.8 573.3L1118.0 575.1L1117.3 576.8L1116.6 578.6L1115.9 580.4L1115.2 582.2L1114.5 584.0L1113.8 585.8L1113.1 587.7L1112.4 589.5L1111.7 591.3L1111.0 593.1L1110.3 594.9L1109.6 596.7L1108.9 598.6L1108.3 600.4L1107.6 602.2L1106.9 604.1L1106.3 605.9L1105.6 607.8L1104.9 609.6L1104.3 611.5L1103.7 613.3L1103.0 615.2L1102.4 617.1L1101.8 619.0L1101.1 620.9L1100.5 622.8L1099.9 624.7L1099.3 626.6L1098.7 628.5L1098.2 630.4L1097.6 632.4L1097.0 634.3L1096.4 636.2L1095.9 638.2L1095.3 640.1L1094.8 642.1L1094.2 644.0L1093.7 646.0L1093.1 648.0L1092.6 649.9L1092.0 651.9L1091.5 653.9L1091.0 655.8L1090.4 657.8L1089.9 659.8L1089.4 661.8L1088.8 663.7L1088.3 665.7L1087.8 667.7L1087.3 669.7L1086.7 671.7L1086.2 673.7L1085.7 675.6L1085.2 677.6L1084.6 679.6L1084.1 681.6L1083.6 683.6L1083.1 685.6L1082.5 687.5L1082.0 689.5L1081.5 691.5L1081.0 693.5L1080.4 695.5L1079.9 697.5L1079.4 699.4L1078.8 701.4L1078.3 703.4L1077.8 705.3L1077.2 707.3L1076.7 709.3L1076.1 711.2L1075.6 713.2L1075.0 715.2L1074.5 717.1L1074.0 719.1L1073.4 721.1L1072.9 723.0L1072.3 725.0L1071.8 727.0L1071.2 728.9L1070.7 730.9L1070.2 732.9L1069.6 734.8L1069.1 736.8L1068.6 738.8L1068.0 740.8L1067.5 742.8L1067.0 744.8L1066.5 746.8L1066.0 748.8L1065.5 750.8L1065.0 752.8L1064.5 754.8L1064.0 756.9L1063.6 758.9L1063.1 760.9L1062.6 763.0L1062.2 765.0L1061.8 767.1L1061.3 769.2L1060.9 771.3L1060.5 773.3L1060.0 775.4L1059.6 777.5L1059.2 779.6L1058.8 781.7L1058.4 783.8L1058.0 786.0L1057.6 788.1L1057.3 790.2L1056.9 792.3L1056.5 794.5L1056.1 796.6L1055.7 798.7L1055.4 800.9L1055.0 803.0L1056.2 801.7L1057.4 800.4L1058.6 799.0L1059.8 797.7L1060.9 796.3L1062.1 795.0L1063.2 793.6L1064.3 792.2L1065.4 790.8L1066.5 789.3L1067.5 787.8L1068.5 786.3L1069.5 784.8L1070.5 783.3L1071.5 781.8L1072.5 780.2L1073.4 778.6L1074.3 777.0L1075.2 775.4L1076.1 773.8L1077.0 772.2L1077.9 770.5L1078.8 768.9L1079.6 767.2L1080.5 765.6L1081.3 763.9L1082.2 762.2L1083.0 760.5L1083.8 758.8L1084.7 757.2L1085.5 755.5L1086.3 753.8L1087.1 752.1L1087.9 750.4L1088.8 748.7L1089.6 747.0L1090.4 745.3L1091.2 743.6L1092.0 741.8L1092.8 740.1L1093.6 738.4L1094.4 736.7L1095.2 735.0L1096.0 733.3L1096.8 731.5L1097.6 729.8L1098.4 728.1L1099.2 726.4L1100.0 724.6L1100.8 722.9L1101.5 721.2L1102.3 719.5L1103.1 717.7L1103.9 716.0L1104.7 714.3L1105.5 712.5L1106.3 710.8L1107.1 709.1L1107.8 707.4L1108.6 705.6L1109.4 703.9L1110.2 702.2L1111.0 700.4L1111.8 698.7L1112.6 697.0L1113.3 695.2L1114.1 693.5L1114.9 691.8L1115.7 690.0L1116.5 688.3L1117.3 686.6L1118.0 684.8L1118.8 683.1L1119.6 681.4L1120.4 679.6L1121.2 677.9L1121.9 676.1L1122.7 674.4L1123.5 672.7L1124.2 670.9L1125.0 669.2L1125.8 667.4L1126.6 665.7L1127.3 663.9L1128.1 662.2L1128.8 660.4L1129.6 658.6L1130.4 656.9L1131.1 655.1L1131.9 653.3L1132.6 651.6L1133.3 649.8L1134.1 648.0L1134.8 646.3L1135.6 644.5L1136.3 642.7L1137.0 640.9L1137.8 639.1L1138.5 637.3L1139.2 635.5L1139.9 633.7L1140.7 631.9L1141.4 630.1L1142.1 628.3L1142.8 626.5L1143.5 624.7L1144.2 622.9L1145.0 621.1L1145.7 619.3L1146.4 617.6L1147.1 615.8L1147.8 614.0L1148.6 612.2L1149.3 610.4L1150.0 608.6L1150.7 606.8L1151.5 605.0L1152.2 603.2L1153.0 601.5L1153.7 599.7L1154.5 597.9L1155.2 596.2L1156.0 594.4L1156.7 592.7L1157.5 590.9L1158.3 589.2L1159.1 587.5L1159.9 585.7L1160.7 584.0L1161.5 582.3L1162.3 580.6L1163.1 578.9L1163.9 577.2L1164.8 575.5L1165.6 573.8L1166.4 572.2L1167.3 570.5L1168.1 568.8L1168.9 567.1L1169.8 565.4L1170.6 563.8L1171.4 562.1L1172.3 560.4L1173.1 558.7L1173.9 557.0L1174.8 555.3L1175.6 553.6L1176.4 551.9L1177.2 550.2L1178.0 548.5L1178.9 546.8L1179.7 545.1L1180.5 543.4L1181.3 541.7L1182.1 540.0L1182.9 538.3L1183.7 536.6L1184.6 534.9L1185.4 533.3L1186.3 531.6L1187.2 530.0L1188.0 528.3L1188.9 526.7L1189.9 525.1L1190.8 523.5L1191.7 521.9L1192.7 520.4L1193.6 518.8L1194.6 517.2L1195.5 515.7L1196.5 514.1L1197.5 512.6L1198.4 511.1L1199.4 509.5L1200.4 508.0L1201.4 506.5L1202.4 504.9L1203.4 503.4L1204.3 501.9L1205.3 500.3L1206.3 498.8L1207.3 497.2L1208.3 495.7L1209.3 494.2L1210.2 492.6L1211.2 491.1L1212.2 489.6L1213.2 488.0L1214.2 486.5L1215.1 485.0L1216.1 483.4L1217.1 481.9L1218.1 480.3L1219.0 478.8L1220.0 477.3L1221.0 475.7L1222.0 474.2L1223.0 472.6L1223.9 471.1L1224.9 469.6L1225.9 468.0L1226.9 466.5L1227.8 464.9L1228.8 463.4L1229.8 461.8L1230.7 460.3L1231.7 458.7L1232.7 457.2L1233.6 455.6L1234.6 454.1L1235.6 452.5L1236.6 451.0L1237.6 449.5L1238.6 448.0L1239.6 446.5L1240.6 445.0L1241.6 443.5L1242.6 442.0L1243.7 440.5L1244.7 439.1L1245.8 437.6L1246.9 436.2L1248.0 434.7L1249.0 433.3L1250.1 431.8L1251.1 430.4L1252.2 428.9L1253.2 427.4L1254.3 425.9L1255.3 424.5L1256.3 423.0L1257.4 421.5L1258.4 420.0L1259.5 418.5L1260.5 417.1L1261.5 415.6L1262.6 414.1L1263.7 412.7L1264.7 411.2L1265.8 409.8L1266.9 408.4L1268.0 406.9L1269.1 405.5L1270.2 404.1L1271.4 402.8L1272.5 401.4L1273.6 400.0L1274.8 398.7L1276.0 397.3L1277.2 396.0L1278.4 394.7L1279.6 393.4L1280.8 392.1L1282.1 390.8L1283.3 389.5L1284.6 388.3L1285.8 387.0L1284.1 387.8L1282.3 388.6L1280.6 389.3L1278.9 390.1L1277.2 390.9L1275.4 391.7L1273.7 392.5L1272.0 393.3L1270.3 394.1L1268.6 394.9L1267.0 395.7L1265.3 396.6L1263.6 397.4L1262.0 398.3L1260.3 399.1L1258.7 400.0L1257.1 400.9L1255.5 401.8L1253.9 402.7L1252.3 403.6L1250.7 404.6L1249.2 405.5L1247.6 406.5L1246.1 407.5L1244.6 408.4L1243.1 409.4L1241.6 410.4L1240.1 411.5L1238.6 412.5L1237.1 413.5L1235.7 414.6L1234.2 415.7L1232.8 416.7L1231.4 417.8L1230.0 418.9L1228.5 420.0L1227.1 421.1L1225.7 422.2L1224.3 423.3L1223.0 424.4L1221.6 425.5L1220.2 426.7L1218.8 427.8L1217.5 429.0L1216.1 430.1L1214.8 431.3L1213.5 432.5L1212.2 433.7L1210.9 434.9L1209.6 436.1L1208.3 437.3L1207.0 438.6L1205.8 439.8L1204.5 441.1L1203.3 442.3L1202.0 443.6L1200.8 444.9L1199.6 446.2L1198.4 447.4L1197.2 448.8L1196.0 450.1L1194.8 451.4L1193.6 452.7L1192.4 454.1L1191.3 455.4L1190.2 456.8L1189.0 458.2L1187.9 459.6L1186.8 461.0L1185.7 462.4L1184.6 463.8L1183.5 465.2L1182.5 466.7L1181.4 468.1L1180.4 469.6L1179.4 471.1L1178.3 472.6L1177.3 474.1L1176.3 475.6L1175.4 477.1L1174.4 478.6L1173.4 480.2L1172.5 481.7L1171.5 483.3L1170.6 484.8L1169.6 486.4L1168.7 488.0L1167.8 489.5L1166.8 491.1L1165.9 492.7L1164.9 494.3L1164.0 495.8L1163.1 497.4L1162.1 498.9L1161.2 500.5L1160.2 502.1L1159.3 503.6L1158.3 505.2L1157.3 506.7L1156.4 508.3L1155.4 509.8L1154.5 511.4L1153.5 512.9L1152.6 514.5L1151.6 516.0L1150.7 517.6L1149.7 519.1L1148.8 520.7L1147.9 522.3L1146.9 523.9L1146.0 525.4L1145.1 527.0L1144.2 528.6L1143.3 530.2L1142.4 531.8L1141.5 533.5L1140.6 535.1L1139.7 536.7L1138.9 538.4L1138.0 540.0L1137.2 541.7L1136.3 543.3L1135.5 545.0L1134.6 546.7L1133.8 548.3L1133.0 550.0L1132.2 551.7L1131.4 553.4L1130.6 555.1L1129.8 556.8L1129.0 558.5L1128.2 560.2L1127.4 561.9L1126.6 563.7L1125.8 565.4L1125.0 567.1L1124.2 568.8L1123.4 570.6L1122.7 572.3L1121.9 574.0L1121.1 575.8L1120.3 577.5L1119.6 579.2L1118.8 581.0L1118.0 582.7L1117.3 584.4L1116.5 586.2L1115.7 587.9L1115.0 589.6L1114.2 591.4L1113.4 593.1L1112.7 594.9L1111.9 596.6L1111.1 598.3L1110.4 600.1L1109.6 601.8L1108.8 603.6L1108.1 605.3L1107.3 607.1L1106.6 608.8L1105.8 610.6L1105.1 612.3L1104.3 614.1L1103.6 615.9L1102.8 617.6L1102.1 619.4L1101.4 621.2L1100.6 622.9L1099.9 624.7L1099.2 626.5L1098.5 628.3L1097.7 630.1L1097.0 631.9L1096.3 633.7L1095.6 635.5L1094.9 637.3L1094.2 639.1L1093.5 640.9L1092.8 642.7L1092.1 644.5L1091.4 646.3L1090.7 648.1L1090.0 649.9L1089.3 651.8L1088.7 653.6L1088.0 655.4L1087.3 657.2L1086.6 659.0L1085.9 660.8L1085.2 662.7L1084.5 664.5L1083.8 666.3L1083.2 668.1L1082.5 670.0L1081.8 671.8L1081.1 673.6L1080.4 675.4L1079.8 677.3L1079.1 679.1L1078.4 680.9L1077.8 682.8L1077.1 684.6L1076.4 686.5L1075.8 688.3L1075.1 690.2L1074.5 692.0L1073.8 693.9L1073.2 695.7L1072.5 697.6L1071.9 699.5L1071.2 701.3L1070.6 703.2L1070.0 705.1L1069.4 707.0L1068.7 708.9L1068.1 710.8L1067.5 712.6L1066.9 714.5L1066.3 716.4L1065.7 718.4L1065.1 720.3L1064.5 722.2L1063.9 724.1L1063.3 726.0L1062.8 727.9L1062.2 729.9L1061.6 731.8L1061.0 733.7L1060.5 735.7L1059.9 737.6L1059.3 739.5L1058.8 741.5L1058.2 743.4L1057.6 745.4L1057.1 747.3L1056.5 749.3L1056.0 751.3L1055.4 753.2L1054.9 755.2L1054.4 757.1L1053.8 759.1L1053.3 761.1L1052.7 763.0L1052.2 765.0L1051.7 767.0L1051.1 769.0L1050.6 770.9L1050.1 772.9L1049.6 774.9L1049.0 776.9L1048.5 778.9L1048.0 780.8L1047.4 782.8L1046.9 784.8L1046.4 786.8L1045.9 788.7L1045.3 790.7L1044.8 792.7L1044.3 794.7L1043.7 796.7L1043.2 798.6L1042.7 800.6L1042.1 802.6L1041.6 804.6L1041.1 806.5L1040.5 808.5L1040.0 810.5L1039.5 812.5L1039.0 814.4L1038.4 816.4L1037.9 818.4L1037.4 820.4L1036.9 822.4L1036.3 824.3L1035.8 826.3L1035.3 828.3L1034.8 830.3L1034.3 832.3L1033.7 834.3L1033.2 836.3L1032.7 838.3L1032.2 840.3L1031.7 842.3L1031.2 844.3L1030.7 846.3L1030.2 848.3L1029.7 850.3L1029.2 852.3L1028.8 854.4L1028.3 856.4L1027.8 858.4L1027.3 860.4L1026.8 862.5L1026.3 864.5L1025.9 866.5L1025.4 868.5L1024.9 870.6L1024.4 872.6L1024.0 874.6L1023.5 876.7L1023.0 878.7L1022.5 880.7L1022.0 882.7L1021.5 884.7L1021.0 886.7L1020.5 888.7L1020.0 890.7L1019.5 892.7L1019.0 894.7L1018.5 896.7L1017.9 898.7L1017.4 900.7L1016.9 902.6L1016.3 904.6L1015.8 906.6L1015.2 908.5L1014.7 910.5L1014.1 912.4L1013.6 914.4L1013.0 916.3L1012.5 918.3L1011.9 920.2L1011.3 922.2L1010.8 924.1L1010.2 926.1L1009.6 928.0L1009.1 929.9L1008.5 931.9L1007.9 933.8L1007.3 935.7L1006.7 937.6L1006.2 939.6L1005.6 941.5L1005.0 943.4L1004.4 945.3L1003.8 947.3L1003.3 949.2L1002.7 951.1L1002.1 953.0L1001.5 954.9L1000.9 956.9L1000.3 958.8L999.7 960.7L999.1 962.6L998.5 964.5L997.9 966.4L997.3 968.3L996.7 970.2L996.1 972.2L995.5 974.1L994.9 976.0L994.3 977.9L993.7 979.8L993.1 981.7L992.5 983.6L991.9 985.4L991.3 987.3L990.7 989.2L990.0 991.1L989.4 993.0L988.8 994.9L988.2 996.7L987.5 998.6L986.9 1000.5L986.3 1002.4L985.6 1004.2L985.0 1006.1L984.3 1008.0L983.7 1009.8L983.0 1011.7L982.4 1013.5L981.7 1015.4L981.0 1017.2L980.4 1019.1L979.7 1020.9L979.1 1022.7L978.4 1024.6L977.7 1026.4L977.0 1028.2L976.4 1030.1L975.7 1031.9L975.0 1033.7L974.3 1035.6L973.7 1037.4L973.0 1039.2L972.3 1041.0L971.6 1042.9L970.9 1044.7L970.2 1046.5L969.6 1048.3L968.9 1050.2L968.2 1052.0L967.5 1053.8L966.8 1055.6L966.1 1057.5L965.5 1059.3L964.8 1061.1L964.1 1062.9L963.4 1064.8L962.7 1066.6L962.1 1068.4L961.4 1070.2L960.7 1072.1L960.0 1073.9L959.4 1075.7L958.7 1077.6L958.0 1079.4L957.3 1081.2L956.7 1083.1L956.0 1084.9L955.3 1086.7L954.7 1088.6L954.0 1090.4L953.3 1092.2L952.6 1094.1L952.0 1095.9L951.3 1097.8L950.6 1099.6L950.0 1101.4L949.3 1103.3L948.6 1105.1L947.9 1106.9L947.3 1108.8L946.6 1110.6L945.9 1112.4L945.2 1114.3L944.6 1116.1L943.9 1117.9L943.2 1119.7L942.5 1121.6L941.8 1123.4L941.1 1125.2L940.4 1127.0L939.8 1128.8L939.1 1130.6L938.4 1132.5L937.7 1134.3L937.0 1136.1L936.3 1137.9L935.6 1139.7L934.9 1141.5L934.2 1143.4L933.6 1145.2L932.9 1147.0L932.2 1148.8L931.5 1150.7L930.8 1152.5L930.1 1154.3L929.4 1156.1L928.7 1157.9L928.0 1159.7L927.3 1161.5L926.5 1163.2L925.8 1165.0L925.0 1166.7L924.3 1168.5L923.5 1170.2L922.7 1171.9L921.8 1173.6L921.0 1175.2L920.2 1176.9L919.3 1178.6L918.4 1180.2L917.5 1181.8L916.6 1183.4L915.7 1185.0L914.8 1186.6L913.9 1188.2L913.0 1189.8L914.6 1188.9L916.3 1188.0L917.9 1187.2L919.5 1186.2L921.1 1185.3L922.7 1184.4L924.2 1183.4L925.7 1182.4L927.3 1181.4L928.8 1180.4L930.2 1179.3L931.7 1178.3L933.1 1177.2L934.6 1176.1L936.0 1175.0L937.4 1173.9L938.8 1172.8L940.1 1171.6L941.5 1170.5L942.8 1169.3L944.1 1168.1L945.4 1166.9L946.7 1165.6L948.0 1164.4L949.2 1163.1L950.5 1161.9L951.7 1160.6L952.9 1159.3L954.2 1158.0L955.4 1156.7L956.5 1155.3L957.7 1154.0L958.9 1152.6L960.0 1151.3L961.2 1149.9L962.3 1148.5L963.4 1147.1L964.5 1145.7L965.6 1144.3L966.7 1142.8L967.8 1141.4L968.9 1140.0L969.9 1138.5L971.0 1137.1L972.0 1135.6L973.1 1134.1L974.1 1132.7L975.2 1131.2L976.2 1129.7L977.2 1128.2L978.2 1126.7L979.2 1125.2L980.2 1123.7L981.2 1122.1L982.2 1120.6L983.2 1119.1L984.1 1117.5L985.1 1115.9L986.0 1114.4L987.0 1112.8L987.9 1111.2L988.8 1109.6L989.8 1108.0L990.7 1106.4L991.6 1104.8L992.5 1103.2L993.4 1101.6L994.3 1100.0L995.2 1098.3L996.1 1096.7L997.0 1095.1L997.9 1093.5L998.8 1091.8L999.7 1090.2L1000.5 1088.6L1001.4 1087.0L1002.3 1085.3L1003.2 1083.7L1004.1 1082.1L1005.0 1080.4L1005.8 1078.8L1006.7 1077.2L1007.6 1075.5L1008.5 1073.9L1009.3 1072.2L1010.2 1070.5L1011.0 1068.9L1011.9 1067.2L1012.7 1065.6L1013.6 1063.9L1014.4 1062.2L1015.3 1060.5L1016.1 1058.8L1016.9 1057.1L1017.7 1055.5L1018.5 1053.7L1019.3 1052.0L1020.1 1050.3L1020.9 1048.6L1021.7 1046.8L1022.5 1045.1L1023.2 1043.3L1024.0 1041.5L1024.7 1039.8L1025.4 1038.0L1026.1 1036.2L1026.9 1034.4L1027.6 1032.6L1028.3 1030.7L1029.0 1028.9L1029.6 1027.1L1030.3 1025.3L1031.0 1023.4L1031.7 1021.6L1032.3 1019.7L1033.0 1017.9L1033.7 1016.0L1034.3 1014.2L1035.0 1012.3L1035.6 1010.4L1036.3 1008.6L1036.9 1006.7L1037.6 1004.8L1038.2 1003.0L1038.9 1001.1L1039.5 999.2L1040.2 997.4L1040.8 995.5L1041.5 993.6L1042.1 991.8L1042.8 989.9L1043.4 988.0L1044.1 986.2L1044.7 984.3L1045.4 982.5L1046.1 980.6L1046.7 978.8L1047.4 976.9L1048.1 975.1L1048.8 973.2L1049.4 971.4L1050.1 969.5L1050.8 967.7L1051.5 965.9L1052.2 964.1L1052.9 962.3L1053.6 960.4L1054.3 958.6L1055.0 956.8L1055.7 955.0L1056.5 953.2L1057.2 951.4L1057.9 949.7L1058.7 947.9L1059.4 946.1L1060.2 944.4L1060.9 942.6L1061.7 940.9L1062.5 939.1L1063.2 937.4L1064.0 935.6L1064.8 933.9L1065.6 932.2L1066.4 930.5L1067.2 928.7L1068.0 927.0L1068.8 925.3L1069.5 923.5L1070.3 921.8L1071.1 920.1L1071.9 918.3L1072.6 916.6L1073.4 914.8L1074.1 913.0L1074.9 911.2L1075.6 909.4L1076.3 907.6L1077.0 905.8L1077.7 904.0L1078.3 902.1L1079.0 900.3L1079.6 898.4L1080.3 896.5L1080.9 894.6L1081.4 892.7L1082.0 890.7L1082.5 888.7L1083.1 886.7L1083.6 884.7L1084.0 882.7L1084.5 880.6L1084.9 878.5L1085.3 876.4L1085.7 874.3L1086.1 872.2L1086.5 870.0L1086.8 867.9L1087.2 865.7L1087.5 863.5L1087.8 861.3L1088.2 859.1L1088.5 856.9L1088.8 854.7L1089.0 852.4L1089.3 850.2L1089.6 848.0L1089.9 845.7L1090.1 843.5L1090.4 841.2L1090.7 839.0L1090.9 836.7L1091.2 834.4L1091.4 832.2L1091.7 829.9L1091.9 827.6L1092.2 825.4L1092.4 823.1L1092.6 820.8L1092.9 818.5L1093.1 816.3L1093.4 814.0L1093.6 811.7L1093.9 809.5L1094.1 807.2L1094.4 804.9L1094.6 802.6L1094.9 800.4L1095.1 798.1L1094.0 799.5L1092.9 800.9L1091.7 802.3L1090.6 803.6L1089.5 805.0L1088.4 806.4L1087.3 807.8L1086.2 809.2L1085.1 810.7L1084.0 812.1L1082.9 813.5L1081.8 814.9L1080.8 816.4L1079.7 817.8L1078.7 819.3L1077.6 820.7L1076.6 822.2L1075.6 823.7L1074.6 825.2L1073.6 826.8L1072.6 828.3L1071.7 829.9L1070.8 831.4L1069.8 833.0L1068.9 834.6L1068.0 836.2L1067.2 837.9L1066.3 839.5L1065.4 841.1L1064.6 842.8L1063.7 844.5L1062.9 846.1L1062.1 847.8L1061.3 849.5L1060.5 851.2L1059.7 852.9L1058.9 854.6L1058.1 856.4L1057.3 858.1L1056.5 859.8L1055.7 861.6L1055.0 863.3L1054.2 865.0L1053.4 866.8L1052.7 868.5L1051.9 870.3L1051.2 872.1L1050.4 873.8L1049.7 875.6L1048.9 877.3L1048.2 879.1L1047.5 880.9L1046.7 882.6L1046.0 884.4L1045.2 886.2L1044.5 887.9L1043.7 889.7L1043.0 891.4L1042.2 893.2L1041.5 895.0L1040.7 896.7L1040.0 898.5L1039.2 900.2L1038.5 902.0L1037.7 903.7L1037.0 905.5L1036.2 907.2L1035.5 909.0L1034.7 910.8L1034.0 912.5L1033.2 914.3L1032.4 916.0L1031.7 917.8L1030.9 919.5L1030.2 921.3L1029.4 923.0L1028.6 924.7L1027.9 926.5L1027.1 928.2L1026.4 930.0L1025.6 931.7L1024.9 933.5L1024.1 935.2L1023.3 937.0L1022.6 938.7L1021.8 940.5L1021.1 942.2L1020.3 944.0L1019.6 945.8L1018.8 947.5L1018.0 949.3L1017.3 951.0L1016.5 952.8L1015.8 954.5L1015.1 956.3L1014.3 958.1L1013.6 959.8L1012.8 961.6L1012.1 963.4L1011.4 965.2L1010.6 966.9L1009.9 968.7L1009.2 970.5L1008.5 972.3L1007.8 974.1L1007.1 975.9L1006.3 977.7L1005.6 979.5L1004.9 981.3L1004.2 983.1L1003.5 984.9L1002.8 986.7L1002.1 988.5L1001.4 990.3L1000.7 992.1L1000.0 993.9L999.3 995.7L998.6 997.5L997.9 999.3L997.1 1001.1L996.4 1002.9L995.7 1004.7L995.0 1006.5L994.3 1008.3L993.6 1010.1L992.8 1011.8L992.1 1013.6L991.4 1015.4L990.7 1017.2L989.9 1019.0L989.2 1020.7L988.5 1022.5L987.7 1024.3L987.0 1026.0L986.2 1027.8L985.5 1029.6L984.7 1031.3L984.0 1033.1L983.2 1034.8L982.4 1036.5L981.7 1038.3L980.9 1040.0L980.1 1041.7L979.3 1043.5L978.6 1045.2L977.8 1046.9L977.0 1048.6L976.2 1050.3L975.4 1052.0L974.6 1053.7L973.8 1055.4L972.9 1057.1L972.1 1058.8L971.3 1060.5L970.5 1062.2L969.6 1063.8L968.8 1065.5L967.9 1067.2L967.1 1068.8L966.2 1070.5L965.4 1072.1L964.5 1073.8L963.6 1075.4L962.7 1077.0L961.9 1078.7L961.0 1080.3L960.1 1081.9L959.2 1083.6L958.4 1085.2L957.5 1086.8L956.6 1088.4L955.7 1090.0L954.8 1091.7L953.9 1093.3L953.0 1094.9L952.2 1096.5L951.3 1098.2L950.4 1099.8L949.5 1101.4L948.6 1103.0L947.7 1104.7L946.8 1106.3L946.0 1107.9L945.1 1109.5L944.2 1111.2L943.3 1112.8L942.4 1114.4L941.6 1116.0L940.7 1117.7L939.8 1119.3L938.9 1120.9L938.0 1122.6L937.2 1124.2L936.3 1125.8L935.4 1127.4L934.5 1129.1L933.6 1130.7L932.8 1132.3L931.9 1133.9L931.0 1135.5L930.1 1137.2L929.2 1138.8L928.3 1140.4L927.4 1142.0L926.5 1143.6L925.6 1145.2L924.6 1146.8L923.7 1148.4L922.8 1149.9L921.9 1151.5L920.9 1153.1L920.0 1154.7L919.1 1156.2L918.1 1157.8L917.2 1159.3L916.2 1160.9L915.2 1162.4L914.3 1164.0L913.3 1165.5L912.3 1167.0L911.3 1168.6L910.3 1170.1L909.3 1171.6L908.3 1173.1L907.3 1174.6L906.3 1176.1L905.3 1177.6L904.3 1179.1L903.3 1180.6L902.3 1182.1L901.3 1183.6L900.3 1185.1L899.3 1186.6L898.3 1188.1L897.3 1189.6L896.3 1191.1L895.3 1192.6L894.3 1194.1L893.3 1195.6L892.3 1197.2L891.3 1198.7L890.3 1200.2L889.3 1201.7L888.3 1203.2L887.4 1204.8L886.4 1206.3L885.4 1207.8L884.4 1209.4L883.4 1210.9L882.4 1212.4L881.5 1213.9L880.5 1215.4L879.5 1217.0L878.5 1218.5L877.5 1220.0L876.5 1221.5L875.5 1223.0L874.5 1224.5L873.4 1226.0L872.4 1227.4L871.4 1228.9L870.3 1230.4L869.3 1231.8L868.2 1233.3L867.2 1234.7L866.1 1236.2L865.0 1237.6L863.9 1239.0L862.8 1240.4L861.7 1241.8L860.6 1243.2L859.4 1244.6L858.3 1245.9L857.2 1247.3L856.0 1248.7L854.8 1250.0L853.7 1251.3L852.5 1252.6L851.3 1254.0L850.1 1255.3L848.8 1256.5L847.6 1257.8L846.4 1259.1L845.1 1260.4L843.9 1261.6L842.6 1262.9L841.4 1264.1L840.1 1265.3L838.8 1266.6L837.5 1267.8L836.2 1269.0L834.9 1270.2L833.6 1271.4L832.3 1272.6L830.9 1273.8L829.6 1274.9L828.3 1276.1L826.9 1277.3L825.6 1278.4L824.2 1279.6L822.9 1280.7L821.5 1281.9L820.2 1283.0L818.8 1284.2L817.4 1285.3L816.1 1286.5L814.7 1287.6L813.3 1288.7L811.9 1289.8L810.5 1290.9L809.1 1292.0L807.7 1293.1L806.3 1294.2L804.9 1295.3L803.4 1296.4L802.0 1297.5L800.6 1298.6L799.1 1299.6L797.7 1300.7L796.2 1301.7L794.8 1302.8L793.3 1303.8L791.8 1304.9L790.4 1305.9L788.9 1306.9L787.4 1307.9L785.9 1309.0L784.4 1310.0L782.9 1311.0L781.4 1312.0L779.9 1313.0L778.4 1314.0L776.9 1315.0L775.4 1316.0L773.9 1317.0L772.4 1318.0L770.8 1319.0L769.3 1320.0L767.8 1321.0L766.3 1322.0L764.8 1323.0L763.3 1323.9L761.7 1324.9L760.2 1325.9L758.6 1326.9L757.1 1327.8L755.6 1328.8L754.0 1329.7L752.4 1330.7L750.9 1331.6L749.3 1332.6L747.7 1333.5L746.2 1334.4L744.6 1335.4L743.0 1336.3L741.4 1337.2L739.8 1338.1L738.2 1339.0L736.6 1339.9L735.0 1340.8L733.4 1341.7L731.8 1342.6L730.1 1343.5L728.5 1344.4L726.9 1345.3L725.3 1346.1L723.6 1347.0L722.0 1347.9L720.3 1348.7L718.7 1349.6L717.0 1350.5L715.4 1351.3L713.7 1352.2L712.1 1353.0L710.4 1353.9L708.7 1354.7L707.1 1355.5L705.4 1356.4L703.7 1357.2L702.0 1358.0L700.4 1358.9L698.7 1359.7L697.0 1360.5L695.3 1361.3L693.6 1362.1L691.9 1362.9L690.2 1363.7L688.5 1364.5L686.8 1365.3L685.1 1366.1L683.3 1366.9L681.6 1367.7L679.9 1368.5L678.2 1369.3L676.4 1370.0L674.7 1370.8L673.0 1371.6L671.2 1372.3L669.5 1373.1L667.7 1373.9L666.0 1374.6L664.2 1375.4L662.5 1376.1L660.7 1376.9L658.9 1377.6L657.2 1378.4L655.4 1379.1L653.6 1379.8L651.8 1380.6L650.1 1381.3L648.3 1382.0L646.5 1382.7L644.7 1383.4L642.9 1384.2L641.1 1384.9L639.3 1385.6L637.5 1386.3L635.7 1387.0L633.9 1387.7L632.1 1388.4L630.2 1389.1L628.4 1389.7L626.6 1390.4L624.8 1391.1L622.9 1391.8L621.1 1392.4L619.3 1393.1L617.4 1393.8L615.6 1394.4L613.7 1395.1L611.9 1395.8L610.0 1396.4L608.2 1397.1L606.3 1397.7L604.4 1398.3L602.6 1399.0L600.7 1399.6L598.8 1400.3L596.9 1400.9L595.0 1401.5L593.2 1402.1L591.3 1402.7L589.4 1403.4L587.5 1404.0L585.6 1404.6L583.7 1405.2L581.8 1405.8L579.9 1406.4L577.9 1407.0L576.0 1407.6L574.1 1408.1L572.2 1408.7L570.3 1409.3L568.3 1409.9L566.4 1410.5L564.5 1411.0L562.5 1411.6L560.6 1412.2L558.6 1412.7L556.7 1413.3L554.7 1413.8L552.8 1414.4L550.8 1415.0L548.9 1415.5L546.9 1416.0L544.9 1416.6L543.0 1417.1L541.0 1417.7L539.0 1418.2L537.0 1418.7L535.0 1419.2L533.1 1419.8L531.1 1420.3L529.1 1420.8L527.1 1421.3L525.1 1421.8L523.1 1422.3L521.1 1422.8L519.1 1423.4L517.1 1423.9L515.1 1424.4L513.1 1424.9L511.1 1425.3L509.0 1425.8L507.0 1426.3L505.0 1426.8L503.0 1427.3L500.9 1427.8L498.9 1428.3L496.9 1428.7L494.9 1429.2L492.8 1429.7L490.8 1430.2L488.7 1430.6L486.7 1431.1L484.7 1431.5L482.6 1432.0L480.6 1432.5L478.5 1432.9L476.5 1433.4L474.4 1433.8L472.3 1434.3L470.3 1434.7L468.2 1435.2L466.2 1435.6L464.1 1436.1L462.0 1436.5L460.0 1436.9L457.9 1437.4L455.8 1437.8L453.7 1438.3L451.7 1438.7L449.6 1439.1L447.5 1439.5L445.4 1440.0L443.4 1440.4L441.3 1440.8L439.2 1441.3L437.1 1441.7L435.0 1442.1L432.9 1442.5L430.9 1443.0L428.8 1443.4L426.7 1443.8L424.6 1444.2L422.5 1444.6L420.4 1445.1L418.3 1445.5L416.2 1445.9L414.1 1446.3L412.1 1446.7L410.0 1447.1L407.9 1447.6L405.8 1448.0L403.7 1448.4L401.6 1448.8L399.5 1449.2L397.4 1449.6L395.3 1450.1L393.2 1450.5L391.1 1450.9L389.0 1451.3L387.0 1451.7L384.9 1452.1L382.8 1452.6L380.7 1453.0L378.6 1453.4L376.5 1453.8L374.4 1454.2L372.3 1454.7L370.3 1455.1L368.2 1455.5L366.1 1455.9L364.0 1456.3L361.9 1456.8L359.8 1457.2L357.7 1457.6L355.7 1458.0L353.6 1458.5L351.5 1458.9L349.4 1459.3L347.3 1459.8L345.3 1460.2L343.2 1460.6L341.1 1461.0L339.0 1461.5L337.0 1461.9L334.9 1462.3L332.8 1462.8L330.7 1463.2L328.7 1463.6L326.6 1464.1L324.5 1464.5L326.7 1464.2L329.0 1463.9L331.2 1463.7L333.4 1463.4L335.6 1463.1L337.9 1462.8L340.1 1462.5L342.3 1462.3L344.6 1462.0L346.8 1461.7L349.0 1461.4L351.2 1461.1L353.5 1460.8L355.7 1460.6L357.9 1460.3L360.1 1460.0L362.3 1459.7L364.5 1459.4L366.7 1459.1L369.0 1458.8L371.2 1458.5L373.4 1458.2L375.6 1457.9L377.8 1457.6L380.0 1457.3L382.2 1457.0L384.4 1456.6L386.6 1456.3L388.8 1456.0L391.0 1455.7L393.1 1455.4L395.3 1455.1L397.5 1454.7L399.7 1454.4L401.9 1454.1L404.1 1453.8L406.3 1453.4L408.4 1453.1L410.6 1452.8L412.8 1452.4L415.0 1452.1L417.1 1451.8L419.3 1451.4L421.5 1451.1L423.6 1450.7L425.8 1450.4L428.0 1450.0L430.1 1449.7L432.3 1449.4L434.4 1449.0L436.6 1448.6L438.7 1448.3L440.9 1447.9L443.0 1447.6L445.2 1447.2L447.3 1446.9L449.5 1446.5L451.6 1446.1L453.8 1445.8L455.9 1445.4L458.0 1445.0L460.2 1444.6L462.3 1444.3L464.4 1443.9L466.6 1443.5L468.7 1443.1L470.8 1442.8L473.0 1442.4L475.1 1442.0L477.2 1441.6L479.3 1441.2L481.4 1440.8L483.6 1440.4L485.7 1440.1L487.8 1439.7L489.9 1439.3L492.0 1438.9L494.1 1438.5L496.2 1438.1L498.3 1437.7L500.5 1437.3L502.6 1436.9L504.7 1436.4L506.8 1436.0L508.9 1435.6L510.9 1435.2L513.0 1434.8L515.1 1434.4L517.2 1434.0L519.3 1433.5L521.4 1433.1L523.5 1432.7L525.6 1432.3L527.7 1431.8L529.7 1431.4L531.8 1431.0L533.9 1430.6L536.0 1430.1L538.0 1429.7L540.1 1429.2L542.2 1428.8L544.2 1428.4L546.3 1427.9L548.4 1427.5L550.4 1427.0L552.5 1426.6L554.5 1426.1L556.6 1425.7L558.6 1425.2L560.7 1424.8L562.7 1424.3L564.8 1423.8L566.8 1423.4L568.9 1422.9L570.9 1422.4L573.0 1422.0L575.0 1421.5L577.0 1421.0L579.0 1420.5L581.1 1420.1L583.1 1419.6L585.1 1419.1L587.1 1418.6L589.2 1418.1L591.2 1417.6L593.2 1417.1L595.2 1416.6L597.2 1416.1L599.2 1415.6L601.2 1415.1L603.2 1414.6L605.2 1414.1L607.2 1413.6L609.2 1413.1L611.2 1412.6L613.2 1412.0L615.2 1411.5L617.2 1411.0L619.2 1410.5L621.1 1409.9L623.1 1409.4L625.1 1408.9L627.1 1408.3L629.0 1407.8L631.0 1407.3L633.0 1406.7L634.9 1406.2L636.9 1405.6L638.8 1405.1L640.8 1404.5L642.7 1403.9L644.7 1403.4L646.6 1402.8L648.6 1402.2L650.5 1401.7L652.4 1401.1L654.4 1400.5L656.3 1399.9L658.2 1399.4L660.1 1398.8L662.1 1398.2L664.0 1397.6L665.9 1397.0L667.8 1396.4L669.7 1395.8L671.6 1395.2L673.5 1394.6L675.4 1394.0L677.3 1393.4L679.2 1392.7L681.1 1392.1L683.0 1391.5L684.8 1390.9L686.7 1390.2L688.6 1389.6L690.5 1389.0L692.3 1388.3L694.2 1387.7L696.1 1387.0L697.9 1386.4L699.8 1385.7L701.6 1385.1L703.5 1384.4L705.3 1383.8L707.2 1383.1L709.0 1382.4L710.9 1381.8L712.7 1381.1L714.5 1380.4L716.3 1379.7L718.2 1379.0L720.0 1378.3L721.8 1377.7L723.6 1377.0L725.4 1376.3L727.2 1375.6L729.0 1374.8L730.8 1374.1L732.6 1373.4L734.4 1372.7L736.2 1372.0L738.0 1371.3L739.8 1370.5L741.5 1369.8L743.3 1369.0L745.1 1368.3L746.8 1367.6L748.6 1366.8L750.3 1366.0L752.1 1365.3L753.8 1364.5L755.6 1363.7L757.3 1363.0L759.0 1362.2L760.7 1361.4L762.5 1360.6L764.2 1359.8L765.9 1359.0L767.6 1358.2L769.3 1357.4L771.0 1356.6L772.7 1355.8L774.4 1355.0L776.0 1354.1L777.7 1353.3L779.4 1352.5L781.1 1351.6L782.7 1350.8L784.4 1349.9L786.1 1349.1L787.7 1348.2L789.4 1347.4L791.0 1346.5L792.7 1345.7L794.3 1344.8L795.9 1343.9L797.6 1343.1L799.2 1342.2L800.8 1341.3L802.5 1340.4L804.1 1339.5L805.7 1338.6L807.3 1337.7L808.9 1336.9L810.5 1336.0L812.2 1335.1L813.8 1334.2L815.4 1333.3L817.0 1332.4L818.6 1331.4L820.2 1330.5L821.8 1329.6L823.4 1328.7L825.0 1327.8L826.6 1326.9L828.2 1326.0L829.8 1325.1L831.4 1324.2L832.9 1323.2L834.5 1322.3L836.1 1321.4L837.7 1320.4L839.2 1319.5L840.8 1318.5L842.3 1317.5L843.8 1316.6L845.4 1315.6L846.9 1314.6L848.4 1313.6L849.9 1312.6L851.4 1311.6L852.9 1310.5L854.3 1309.5L855.8 1308.5L857.3 1307.4L858.7 1306.4L860.2 1305.3L861.6 1304.2L863.0 1303.2L864.5 1302.1L865.9 1301.0L867.3 1299.9L868.7 1298.8L870.1 1297.7L871.5 1296.5L872.9 1295.4L874.2 1294.3L875.6 1293.1L877.0 1292.0L878.3 1290.8L879.7 1289.7L881.0 1288.5L882.4 1287.4L883.7 1286.2L885.0 1285.0L886.4 1283.8L887.7 1282.7L889.0 1281.5L890.4 1280.3L891.7 1279.1L893.0 1277.9L894.3 1276.7L895.6 1275.5L896.9 1274.3L898.2 1273.1L899.5 1271.9L900.8 1270.7L902.1 1269.5L903.4 1268.3L904.7 1267.0L906.0 1265.8L907.2 1264.6L908.5 1263.3L909.7 1262.0L911.0 1260.8L912.2 1259.5L913.4 1258.2L914.7 1256.9L915.9 1255.6L917.1 1254.3L918.3 1253.0L919.4 1251.7L920.6 1250.3L921.8 1249.0L922.9 1247.6L924.1 1246.3L925.2 1244.9L926.3 1243.5L927.4 1242.1L928.5 1240.7L929.6 1239.3L930.7 1237.9L931.8 1236.4L932.9 1235.0L933.9 1233.6L935.0 1232.1L936.1 1230.7L937.1 1229.3L938.2 1227.8L939.3 1226.4L940.3 1224.9L941.4 1223.5L942.5 1222.0L943.5 1220.6L944.6 1219.2L945.7 1217.7L946.7 1216.3L947.8 1214.8L948.8 1213.3L949.9 1211.9L950.9 1210.4L952.0 1208.9L953.0 1207.5L954.0 1206.0L955.0 1204.5L956.1 1203.0L957.1 1201.5L958.1 1200.0L959.1 1198.5L960.1 1197.0L961.1 1195.5L962.0 1193.9L963.0 1192.4L964.0 1190.9L964.9 1189.3L965.9 1187.8L966.8 1186.2L967.8 1184.6L968.7 1183.1L969.6 1181.5L970.6 1179.9L971.5 1178.3L972.4 1176.7L973.3 1175.1L974.2 1173.5L975.1 1171.9L976.0 1170.3L976.9 1168.7L977.8 1167.0L978.7 1165.4L979.5 1163.8L980.4 1162.1L981.3 1160.5L982.1 1158.9L983.0 1157.2L983.9 1155.6L984.8 1153.9L985.6 1152.3L986.5 1150.7L987.4 1149.0L988.2 1147.4L989.1 1145.7L990.0 1144.1L990.8 1142.5L991.7 1140.8L992.5 1139.2L993.4 1137.5L994.2 1135.8L995.1 1134.2L995.9 1132.5L996.8 1130.9L997.6 1129.2L998.5 1127.5L999.3 1125.9L1000.1 1124.2L1001.0 1122.5L1001.8 1120.8L1002.6 1119.1L1003.4 1117.4L1004.2 1115.7L1005.0 1114.0L1005.8 1112.3L1006.6 1110.6L1007.4 1108.9L1008.2 1107.2L1009.0 1105.4L1009.8 1103.7L1010.5 1102.0L1011.3 1100.2L1012.1 1098.5L1012.8 1096.7L1013.6 1095.0L1014.4 1093.2L1015.1 1091.5L1015.9 1089.7L1016.6 1088.0L1017.3 1086.2L1018.1 1084.4L1018.8 1082.7L1019.6 1080.9L1020.3 1079.1L1021.0 1077.3L1021.7 1075.5L1022.5 1073.7L1023.2 1072.0L1023.9 1070.2L1024.6 1068.4L1025.3 1066.6L1026.0 1064.8L1026.7 1063.0L1027.4 1061.1L1028.1 1059.3L1028.8 1057.5L1029.5 1055.7L1030.2 1053.9L1030.9 1052.1L1031.6 1050.2L1032.2 1048.4L1032.9 1046.6L1033.6 1044.7L1034.2 1042.9L1034.9 1041.0L1035.6 1039.2L1036.2 1037.3L1036.8 1035.5L1037.5 1033.6L1038.1 1031.7L1038.7 1029.8L1039.4 1027.9L1040.0 1026.0L1040.6 1024.1L1041.2 1022.2L1041.8 1020.3L1042.3 1018.4L1042.9 1016.4L1043.5 1014.5L1044.1 1012.6L1044.6 1010.6L1045.2 1008.7L1045.7 1006.7L1046.3 1004.8L1046.8 1002.8L1047.4 1000.8L1047.9 998.9L1048.5 996.9L1049.0 994.9L1049.5 993.0L1050.1 991.0L1050.6 989.0L1051.1 987.0L1051.7 985.1L1052.2 983.1L1052.7 981.1L1053.2 979.1L1053.8 977.1L1054.3 975.1L1054.8 973.2L1055.3 971.2L1055.9 969.2L1056.4 967.2L1056.9 965.2L1057.4 963.2L1058.0 961.3L1058.5 959.3L1059.0 957.3L1059.5 955.3L1060.1 953.3L1060.6 951.3L1061.1 949.4L1061.7 947.4L1062.2 945.4L1062.7 943.5L1063.3 941.5L1063.8 939.5L1064.4 937.6L1064.9 935.6L1065.5 933.6L1066.0 931.7L1066.5 929.7L1067.1 927.7L1067.6 925.8L1068.2 923.8L1068.7 921.8L1069.3 919.9L1069.8 917.9L1070.3 915.9L1070.9 914.0L1071.4 912.0L1071.9 910.0L1072.5 908.0L1073.0 906.0L1073.5 904.0L1074.0 902.0L1074.5 900.0L1075.0 898.0L1075.5 896.0L1076.0 894.0L1076.5 891.9L1076.9 889.9L1077.4 887.9L1077.9 885.8L1078.3 883.8L1078.7 881.7L1079.2 879.6L1079.6 877.5L1080.0 875.5L1080.5 873.4L1080.9 871.3L1081.3 869.2L1081.7 867.1L1082.1 865.0L1082.5 862.8L1082.9 860.7L1083.2 858.6L1083.6 856.5L1084.0 854.3L1084.4 852.2L1084.8 850.1L1085.1 847.9L1085.5 845.8L1084.3 847.1L1083.1 848.4L1081.9 849.8L1080.7 851.1L1079.6 852.5L1078.4 853.8L1077.3 855.2L1076.2 856.6L1075.1 858.0L1074.0 859.5L1073.0 861.0L1072.0 862.5L1071.0 864.0L1070.0 865.5L1069.0 867.0L1068.0 868.6L1067.1 870.2L1066.2 871.8L1065.3 873.4L1064.4 875.0L1063.5 876.6L1062.6 878.3L1061.7 879.9L1060.9 881.6L1060.0 883.2L1059.2 884.9L1058.3 886.6L1057.5 888.3L1056.7 890.0L1055.8 891.6L1055.0 893.3L1054.2 895.0L1053.4 896.7L1052.6 898.4L1051.7 900.1L1050.9 901.8L1050.1 903.5L1049.3 905.2L1048.5 907.0L1047.7 908.7L1046.9 910.4L1046.1 912.1L1045.3 913.8L1044.5 915.5L1043.7 917.3L1042.9 919.0L1042.1 920.7L1041.3 922.4L1040.5 924.2L1039.7 925.9L1039.0 927.6L1038.2 929.3L1037.4 931.1L1036.6 932.8L1035.8 934.5L1035.0 936.3L1034.2 938.0L1033.4 939.7L1032.7 941.4L1031.9 943.2L1031.1 944.9L1030.3 946.6L1029.5 948.4L1028.7 950.1L1027.9 951.8L1027.2 953.6L1026.4 955.3L1025.6 957.0L1024.8 958.8L1024.0 960.5L1023.2 962.2L1022.5 964.0L1021.7 965.7L1020.9 967.4L1020.1 969.2L1019.3 970.9L1018.6 972.7L1017.8 974.4L1017.0 976.1L1016.3 977.9L1015.5 979.6L1014.7 981.4L1013.9 983.1L1013.2 984.9L1012.4 986.6L1011.7 988.4L1010.9 990.2L1010.1 991.9L1009.4 993.7L1008.6 995.5L1007.9 997.2L1007.2 999.0L1006.4 1000.8L1005.7 1002.5L1004.9 1004.3L1004.2 1006.1L1003.5 1007.9L1002.7 1009.7L1002.0 1011.5L1001.3 1013.3L1000.6 1015.1L999.8 1016.9L999.1 1018.7L998.4 1020.5L997.7 1022.3L997.0 1024.1L996.3 1025.9L995.5 1027.7L994.8 1029.5L994.1 1031.2L993.4 1033.0L992.7 1034.8L991.9 1036.6L991.2 1038.4L990.5 1040.2L989.8 1042.0L989.0 1043.8L988.3 1045.6L987.5 1047.3L986.8 1049.1L986.0 1050.9L985.3 1052.6L984.5 1054.4L983.8 1056.1L983.0 1057.9L982.2 1059.6L981.4 1061.3L980.6 1063.1L979.8 1064.8L979.0 1066.5L978.2 1068.2L977.4 1069.9L976.6 1071.6L975.7 1073.3L974.9 1075.0L974.1 1076.6L973.2 1078.3L972.4 1080.0L971.6 1081.7L970.7 1083.4L969.9 1085.0L969.1 1086.7L968.2 1088.4L967.4 1090.1L966.6 1091.8L965.7 1093.5L964.9 1095.2L964.1 1096.9L963.3 1098.6L962.5 1100.3L961.6 1102.0L960.8 1103.7L960.0 1105.4L959.2 1107.1L958.4 1108.8L957.6 1110.5L956.8 1112.2L955.9 1113.9L955.1 1115.5L954.2 1117.2L953.3 1118.8L952.5 1120.5L951.6 1122.1L950.6 1123.7L949.7 1125.3L948.8 1126.9L947.8 1128.4L946.9 1130.0L945.9 1131.6L945.0 1133.1L944.0 1134.7L943.0 1136.2L942.1 1137.7L941.1 1139.3L940.1 1140.8L939.1 1142.3L938.1 1143.9L937.1 1145.4L936.2 1146.9L935.2 1148.5L934.2 1150.0L933.2 1151.6L932.2 1153.1L931.2 1154.6L930.3 1156.2L929.3 1157.7L928.3 1159.2L927.3 1160.8L926.3 1162.3L925.4 1163.8L924.4 1165.4L923.4 1166.9L922.4 1168.5L921.5 1170.0L920.5 1171.5L919.5 1173.1L918.5 1174.6L917.5 1176.2L916.6 1177.7L915.6 1179.2L914.6 1180.8L913.6 1182.3L912.7 1183.9L911.7 1185.4L910.7 1187.0L909.8 1188.5L908.8 1190.1L907.8 1191.6L906.9 1193.2L905.9 1194.7L904.9 1196.3L903.9 1197.8L902.9 1199.3L901.9 1200.8L900.9 1202.3L899.9 1203.8L898.9 1205.3L897.9 1206.8L896.8 1208.3L895.8 1209.7L894.7 1211.2L893.6 1212.6L892.5 1214.1L891.5 1215.5L890.4 1217.0L889.4 1218.4L888.3 1219.9L887.3 1221.4L886.2 1222.9L885.2 1224.3L884.2 1225.8L883.1 1227.3L882.1 1228.8L881.0 1230.3L880.0 1231.7L879.0 1233.2L877.9 1234.7L876.8 1236.1L875.8 1237.6L874.7 1239.0L873.6 1240.4L872.5 1241.9L871.4 1243.3L870.3 1244.7L869.1 1246.0L868.0 1247.4L866.9 1248.8L865.7 1250.1L864.5 1251.5L863.3 1252.8L862.1 1254.1L860.9 1255.4L859.7 1256.7L858.4 1258.0L857.2 1259.3L855.9 1260.5L854.7 1261.8"/>
<use href="#bh" x="-1.00"/><use href="#bh" x="1.00"/>
</g>
<g font-size="57.80"><text x="219.00" y="1584.00" text-anchor="middle">-8000</text><text x="644.62" y="1584.00" text-anchor="middle">-4000</text><text x="1070.25" y="1584.00" text-anchor="middle">0</text><text x="1495.88" y="1584.00" text-anchor="middle">4000</text><text x="1921.50" y="1584.00" text-anchor="middle">8000</text><text x="188.30" y="154.75" text-anchor="end">1.5</text><text x="188.30" y="383.47" text-anchor="end">1</text><text x="188.30" y="612.18" text-anchor="end">0.5</text><text x="188.30" y="840.90" text-anchor="end">0</text><text x="188.30" y="1069.62" text-anchor="end">-0.5</text><text x="188.30" y="1298.33" text-anchor="end">-1</text><text x="188.30" y="1527.05" text-anchor="end">-1.5</text></g>
<text x="1069.50" y="1689.20" font-size="64.50" text-anchor="middle">Magnetic field strength, <tspan font-style="italic">H</tspan> (A/m)</text>
<text transform="translate(69.00 824.00) rotate(-90)" font-size="64.90" text-anchor="middle">Magnetic flux density, <tspan font-style="italic">B</tspan> (T)</text>
<text x="1072.00" y="77.00" font-size="65.00" text-anchor="middle"><tspan stroke="#000" stroke-width="0.20">(</tspan><tspan font-weight="bold">c</tspan><tspan stroke="#000" stroke-width="0.20">)</tspan></text>
<g font-size="58.20">
<text x="289.20" y="249.50"><tspan font-style="italic">B</tspan><tspan font-size="39.00" dy="16.00">p</tspan><tspan dy="-16.00"> = 1.4 T</tspan></text>
<text x="289.20" y="346.50">50 Hz + 5<tspan font-size="39.00" dy="-22.00">th</tspan><tspan dy="22.00"> harmonic waveform</tspan></text>
<text x="289.20" y="443.30"><tspan font-style="italic">B</tspan><tspan font-size="39.00" dy="16.00">5</tspan><tspan dy="-16.00">/</tspan><tspan font-style="italic">B</tspan><tspan font-size="39.00" dy="16.00">1</tspan><tspan dy="-16.00"> = 0.8, </tspan><tspan font-style="italic">θ</tspan><tspan font-size="39.00" dy="16.00">5</tspan><tspan dy="-16.00"> = 30</tspan><tspan font-size="39.00" dy="-22.00">o</tspan></text>
</g>
</svg>
</body>
</html>
